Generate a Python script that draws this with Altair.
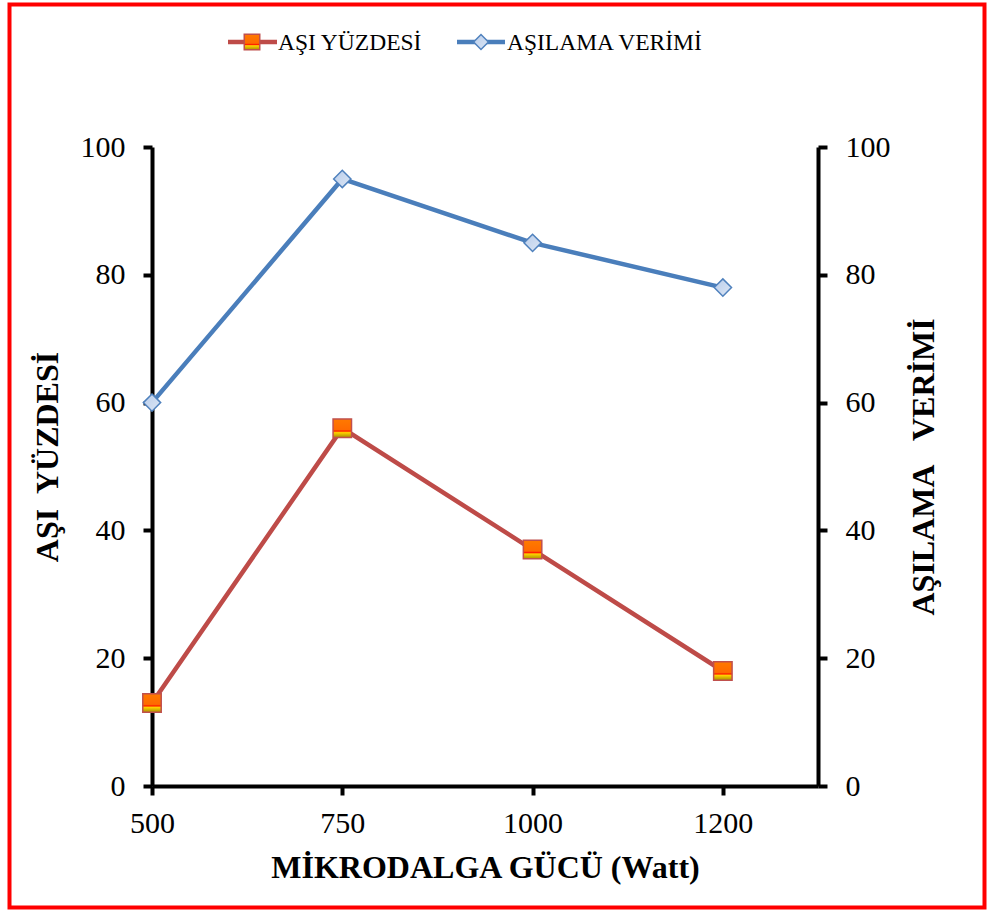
import json
import altair as alt
import pandas as pd

# Microwave power levels (category positions on the x axis)
powers = ["500", "750", "1000", "1200"]
# Series values
asi_yuzdesi = [13, 56, 37, 18]
asilama_verimi = [60, 95, 85, 78]
series_names = ["AŞI YÜZDESİ", "AŞILAMA VERİMİ"]
y_ticks = [0, 20, 40, 60, 80, 100]

FONT = "Liberation Serif"
RED = "#BE4B48"
BLUE = "#4A7EBB"

W, H = 666, 639
PAD = {"left": 152, "top": 147, "right": 987 - 152 - W, "bottom": 910 - 147 - H}

red_df = pd.DataFrame({"idx": range(len(powers)), "power": powers, "value": asi_yuzdesi})
blue_df = pd.DataFrame({"idx": range(len(powers)), "power": powers, "value": asilama_verimi})

label_expr = json.dumps(powers) + "[datum.value]"

x_enc = alt.X(
    "idx:Q",
    scale=alt.Scale(domain=[0, len(powers) - 0.5], nice=False, zero=False),
    axis=alt.Axis(
        values=list(range(len(powers))),
        labelExpr=label_expr,
        labelFlush=False,
        labelOverlap=False,
        title="MİKRODALGA GÜCÜ (Watt)",
        titleFontSize=32,
        titleFontWeight="bold",
        titlePadding=14,
        labelPadding=13,
    ),
)

square_fill = {
    "gradient": "linear", "x1": 0, "y1": 0, "x2": 0, "y2": 1,
    "stops": [
        {"offset": 0.0, "color": "#FF7A00"},
        {"offset": 0.58, "color": "#FF6A00"},
        {"offset": 0.66, "color": "#FF1E00"},
        {"offset": 0.74, "color": "#FFD200"},
        {"offset": 1.0, "color": "#A89000"},
    ],
}
diamond_fill = {
    "gradient": "linear", "x1": 0, "y1": 0, "x2": 1, "y2": 1,
    "stops": [
        {"offset": 0.0, "color": "#B9CDEB"},
        {"offset": 1.0, "color": "#DCE6F4"},
    ],
}

y_left = alt.Y(
    "value:Q",
    scale=alt.Scale(domain=[0, 100], nice=False),
    axis=alt.Axis(
        values=y_ticks, orient="left",
        title="AŞI\u00a0 YÜZDESİ", titleFontSize=32, titleFontWeight="bold",
        titlePadding=16, labelPadding=18, titleY=H / 2 - 10,
    ),
)
y_right = alt.Y(
    "value:Q",
    scale=alt.Scale(domain=[0, 100], nice=False),
    axis=alt.Axis(
        values=y_ticks, orient="right",
        title="AŞILAMA\u00a0\u00a0 VERİMİ", titleFontSize=32, titleFontWeight="bold",
        titleAngle=270, titleBaseline="bottom", titlePadding=50, labelPadding=18,
    ),
)

red_line = alt.Chart(red_df).mark_line(color=RED, strokeWidth=4.5).encode(x=x_enc, y=y_left)
red_pts = alt.Chart(red_df).mark_point(
    shape="square", filled=True, size=340, fill=square_fill, stroke="#C0504D",
    strokeWidth=1.5, opacity=1,
).encode(x=x_enc, y=y_left)

blue_line = alt.Chart(blue_df).mark_line(color=BLUE, strokeWidth=4.5).encode(x=x_enc, y=y_right)
blue_pts = alt.Chart(blue_df).mark_point(
    shape="diamond", filled=True, size=300, fill=diamond_fill, stroke="#4F81BD",
    strokeWidth=1.5, opacity=1,
).encode(x=x_enc, y=y_right)

left = alt.layer(red_line, red_pts)
right = alt.layer(blue_line, blue_pts)

# Legend drawn above the plot area
leg_y = 42 - PAD["top"]


def legend_entry(name, x0, x1, xm, xt, color, shape, fill, stroke, size):
    d = pd.DataFrame({"name": [name]})
    line = alt.Chart(d).mark_rule(color=color, strokeWidth=4.5).encode(
        x=alt.value(x0), x2=alt.value(x1), y=alt.value(leg_y)
    )
    pt = alt.Chart(d).mark_point(
        shape=shape, filled=True, size=size, fill=fill, stroke=stroke, strokeWidth=1.5, opacity=1
    ).encode(x=alt.value(xm), y=alt.value(leg_y))
    txt = alt.Chart(d).mark_text(
        align="left", baseline="middle", font=FONT, fontSize=23.5, color="black", dy=1
    ).encode(x=alt.value(xt), y=alt.value(leg_y), text="name:N")
    return [line, pt, txt]


leg_red = legend_entry(series_names[0], 228 - 152, 277 - 152, 252 - 152, 278 - 152,
                       RED, "square", square_fill, "#C0504D", 240)
leg_blue = legend_entry(series_names[1], 457 - 152, 505 - 152, 481 - 152, 507 - 152,
                        BLUE, "diamond", diamond_fill, "#4F81BD", 220)

# Red frame around the whole figure
frame = alt.Chart(pd.DataFrame({"f": [0]})).mark_rect(
    fill="transparent", stroke="#FF0000", strokeWidth=4
).encode(
    x=alt.value(9.5 - 152), x2=alt.value(984.5 - 152),
    y=alt.value(4.5 - 147), y2=alt.value(907.5 - 147),
)

chart = (
    alt.layer(left, right, *leg_red, *leg_blue, frame)
    .resolve_scale(y="independent")
    .properties(width=W, height=H, autosize=alt.AutoSizeParams(type="none"), padding=PAD,
                background="white")
    .configure_view(stroke=None)
    .configure_axis(
        domainColor="black", domainWidth=4, tickColor="black", tickWidth=4, tickSize=9,
        grid=False, labelFont=FONT, titleFont=FONT, labelFontSize=30, labelColor="black",
        titleColor="black",
    )
)

chart.save("out.html", embed_options={"renderer": "svg", "actions": False})
